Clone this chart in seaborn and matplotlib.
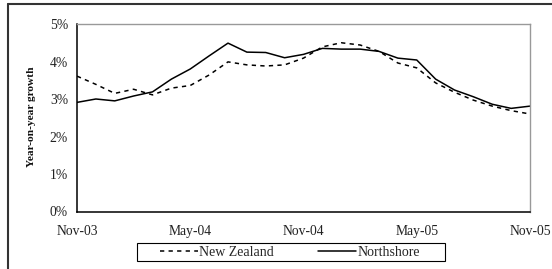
import numpy as np
import pandas as pd
import matplotlib
matplotlib.use("Agg")
import matplotlib.pyplot as plt
from matplotlib.lines import Line2D
from matplotlib.patches import Rectangle
import seaborn as sns

months = ["Nov-03", "Dec-03", "Jan-04", "Feb-04", "Mar-04", "Apr-04", "May-04", "Jun-04",
          "Jul-04", "Aug-04", "Sep-04", "Oct-04", "Nov-04", "Dec-04", "Jan-05", "Feb-05",
          "Mar-05", "Apr-05", "May-05", "Jun-05", "Jul-05", "Aug-05", "Sep-05", "Oct-05", "Nov-05"]
new_zealand = [3.61, 3.39, 3.15, 3.26, 3.11, 3.29, 3.36, 3.64, 3.99, 3.91, 3.88, 3.91, 4.09,
               4.39, 4.50, 4.44, 4.27, 3.96, 3.83, 3.43, 3.18, 2.97, 2.81, 2.69, 2.60]
northshore = [2.91, 3.00, 2.95, 3.08, 3.19, 3.53, 3.80, 4.15, 4.49, 4.25, 4.24, 4.10, 4.19,
              4.35, 4.33, 4.33, 4.27, 4.09, 4.04, 3.53, 3.24, 3.06, 2.86, 2.75, 2.81]
series_names = ["New Zealand", "Northshore"]
tick_labels = ["Nov-03", "May-04", "Nov-04", "May-05", "Nov-05"]
y_ticks = [0, 1, 2, 3, 4, 5]

idx = np.arange(len(months))
df = pd.concat([
    pd.DataFrame({"month": idx, "growth": new_zealand, "series": series_names[0]}),
    pd.DataFrame({"month": idx, "growth": northshore, "series": series_names[1]}),
])

sns.set_style("white")
plt.rcParams["font.family"] = ["Liberation Serif", "DejaVu Serif"]

W, H = 552, 269
fig = plt.figure(figsize=(W / 100, H / 100), dpi=100)
ax = fig.add_axes([77 / W, 1 - 211.5 / H, (530 - 77) / W, (211.5 - 24) / H])

sns.lineplot(data=df, x="month", y="growth", hue="series", style="series",
             palette={"New Zealand": "black", "Northshore": "black"},
             dashes={"New Zealand": (2.8, 2.8), "Northshore": ""},
             linewidth=1.1, ax=ax, legend=False)

ax.set_xlim(0, 24)
ax.set_ylim(0, 5)
ax.set_xticks(np.arange(0, 25, 3))
ax.set_xticklabels([tick_labels[i // 6] if i % 6 == 0 else "" for i in range(0, 25, 3)])
ax.set_yticks(y_ticks)
ax.set_yticklabels([f"{v}%" for v in y_ticks])
ax.set_xlabel("")
ax.set_ylabel("")
fig.text(32 / W, 1 - 117 / H, "Year-on-year growth", rotation=90, ha="center", va="center",
         fontsize=8.2, fontweight="bold", color="#111111")
ax.tick_params(axis="both", direction="inout", length=7, width=1, color="black",
               labelsize=9.8, colors="#222222")
ax.tick_params(axis="x", pad=6)
ax.tick_params(axis="y", pad=3)
for s in ["left", "bottom"]:
    ax.spines[s].set_color("black")
    ax.spines[s].set_linewidth(1.1)
for s in ["top", "right"]:
    ax.spines[s].set_color("#999999")
    ax.spines[s].set_linewidth(1.0)

handles = [Line2D([], [], color="black", lw=1.1, dashes=(2.8, 2.8)),
           Line2D([], [], color="black", lw=1.1)]
leg = fig.legend(handles, series_names, loc="center", bbox_to_anchor=(290 / W, 1 - 252 / H),
                 ncol=2, frameon=False, fontsize=10,
                 handlelength=2.7, handletextpad=0.1, columnspacing=3.2, borderpad=0.15)
fig.add_artist(Rectangle((137 / W, 1 - 261 / H), (445 - 137) / W, 18 / H, fill=False,
                         edgecolor="black", lw=0.8, transform=fig.transFigure))

# outer frame
y_top = 1 - 4 / H
x_left = 8 / W
fig.add_artist(Line2D([x_left, x_left], [0, y_top], color="#333333", lw=1.5, transform=fig.transFigure))
fig.add_artist(Line2D([x_left, 1], [y_top, y_top], color="#333333", lw=1.5, transform=fig.transFigure))

fig.savefig("out.png", dpi=100)
